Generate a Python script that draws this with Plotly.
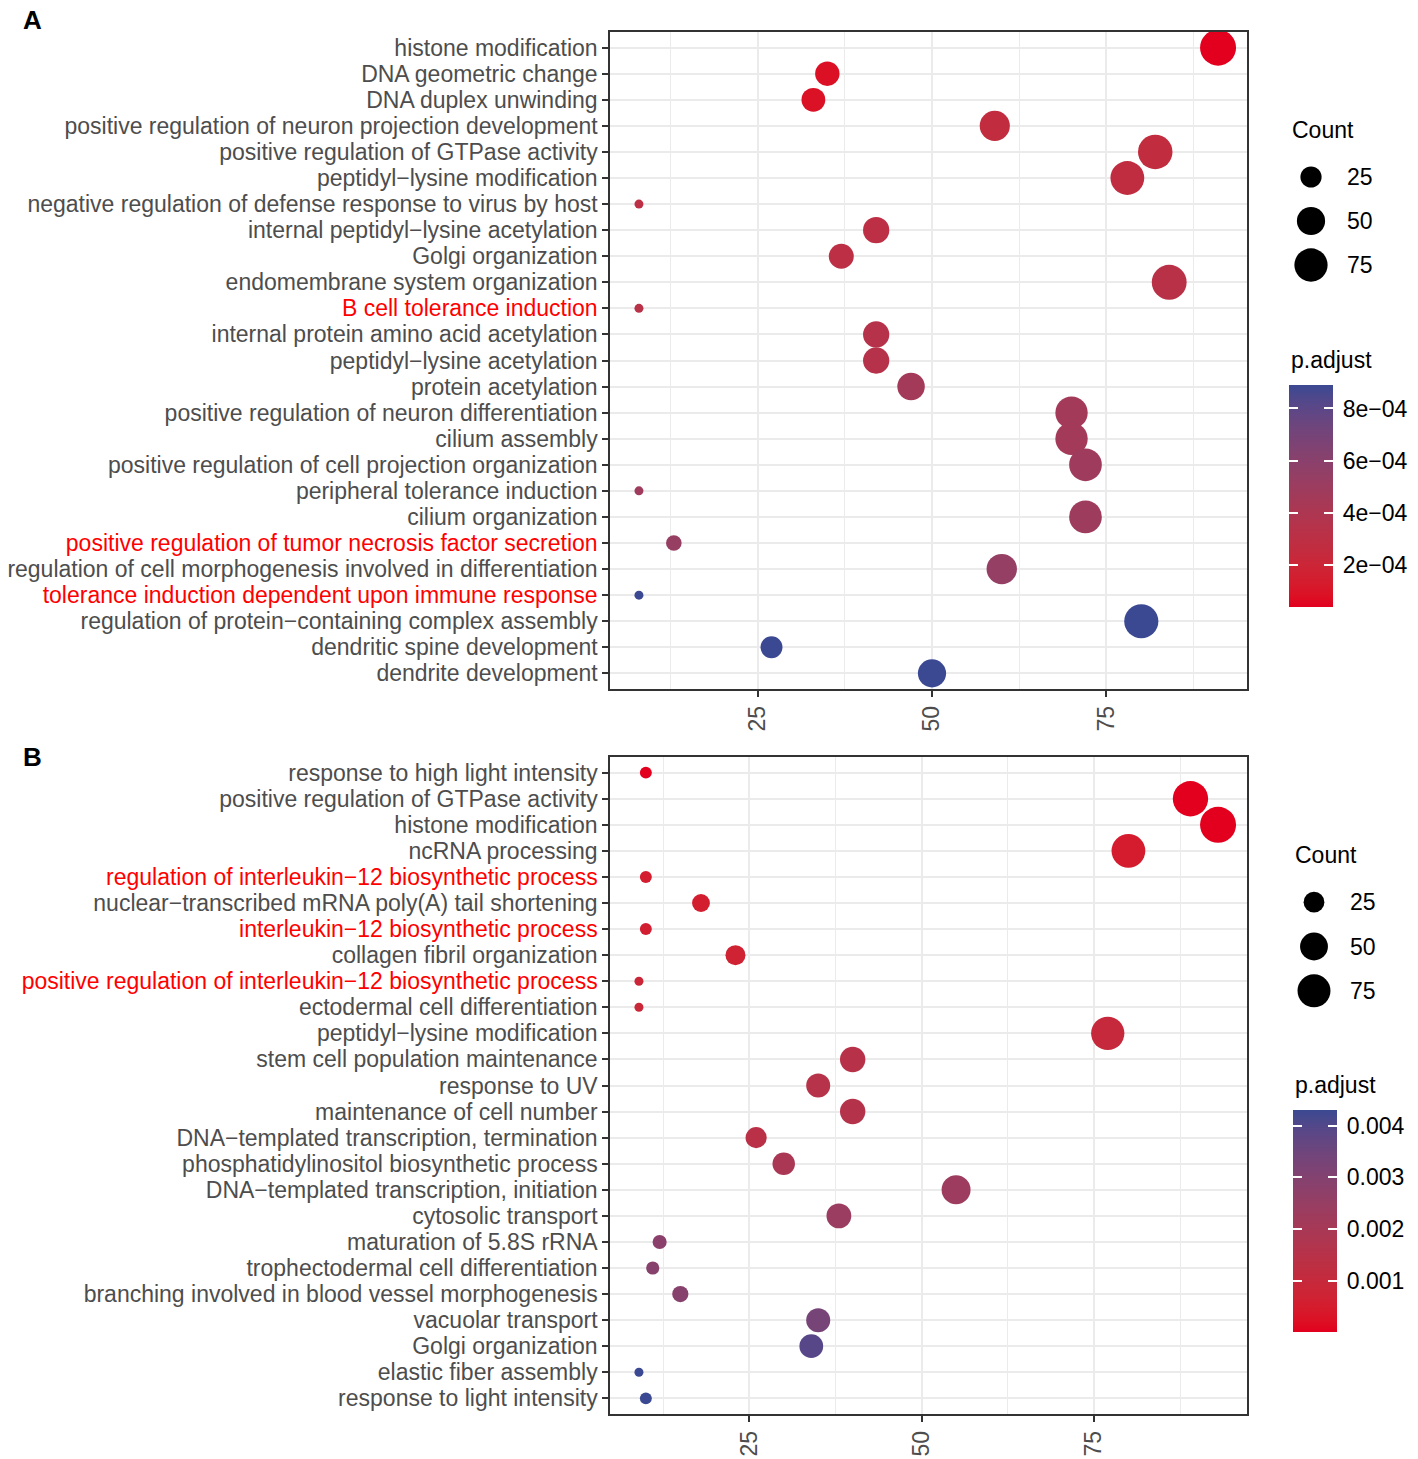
import numpy as np
import plotly.graph_objects as go

# page is 1418x1459; the browser body adds an 8px margin, so the figure is
# drawn 8px smaller and all pixel targets are offset by 8px.
PAGE_W, PAGE_H = 1418, 1459
OFF = 8
W, H = PAGE_W - OFF, PAGE_H - OFF

# ---------------- Panel A data ----------------
terms_a = [
    "histone modification",
    "DNA geometric change",
    "DNA duplex unwinding",
    "positive regulation of neuron projection development",
    "positive regulation of GTPase activity",
    "peptidyl−lysine modification",
    "negative regulation of defense response to virus by host",
    "internal peptidyl−lysine acetylation",
    "Golgi organization",
    "endomembrane system organization",
    "B cell tolerance induction",
    "internal protein amino acid acetylation",
    "peptidyl−lysine acetylation",
    "protein acetylation",
    "positive regulation of neuron differentiation",
    "cilium assembly",
    "positive regulation of cell projection organization",
    "peripheral tolerance induction",
    "cilium organization",
    "positive regulation of tumor necrosis factor secretion",
    "regulation of cell morphogenesis involved in differentiation",
    "tolerance induction dependent upon immune response",
    "regulation of protein−containing complex assembly",
    "dendritic spine development",
    "dendrite development",
]
count_a = [91, 35, 33, 59, 82, 78, 8, 42, 37, 84, 8, 42, 42, 47, 70, 70, 72, 8, 72, 13, 60, 8, 80, 27, 50]
padj_a = [3.8e-5, 8.0e-5, 8.5e-5, 2.6e-4, 2.6e-4, 2.7e-4, 3.0e-4, 3.0e-4, 3.0e-4, 3.2e-4,
          3.3e-4, 3.4e-4, 3.4e-4, 4.6e-4, 4.6e-4, 4.6e-4, 4.8e-4, 4.8e-4, 4.9e-4, 5.3e-4,
          5.4e-4, 8.9e-4, 8.9e-4, 8.9e-4, 8.9e-4]
highlight_a = [
    "B cell tolerance induction",
    "positive regulation of tumor necrosis factor secretion",
    "tolerance induction dependent upon immune response",
]
ticks_a = [2e-4, 4e-4, 6e-4, 8e-4]

# ---------------- Panel B data ----------------
terms_b = [
    "response to high light intensity",
    "positive regulation of GTPase activity",
    "histone modification",
    "ncRNA processing",
    "regulation of interleukin−12 biosynthetic process",
    "nuclear−transcribed mRNA poly(A) tail shortening",
    "interleukin−12 biosynthetic process",
    "collagen fibril organization",
    "positive regulation of interleukin−12 biosynthetic process",
    "ectodermal cell differentiation",
    "peptidyl−lysine modification",
    "stem cell population maintenance",
    "response to UV",
    "maintenance of cell number",
    "DNA−templated transcription, termination",
    "phosphatidylinositol biosynthetic process",
    "DNA−templated transcription, initiation",
    "cytosolic transport",
    "maturation of 5.8S rRNA",
    "trophectodermal cell differentiation",
    "branching involved in blood vessel morphogenesis",
    "vacuolar transport",
    "Golgi organization",
    "elastic fiber assembly",
    "response to light intensity",
]
count_b = [10, 89, 93, 80, 10, 18, 10, 23, 9, 9, 77, 40, 35, 40, 26, 30, 55, 38, 12, 11, 15, 35, 34, 9, 10]
padj_b = [1.0e-5, 1.0e-5, 1.2e-5, 5.0e-4, 5.2e-4, 5.5e-4, 6.0e-4, 7.0e-4, 8.5e-4, 9.0e-4,
          1.0e-3, 1.5e-3, 1.55e-3, 1.6e-3, 1.4e-3, 1.9e-3, 2.3e-3, 2.4e-3, 2.8e-3, 2.9e-3,
          2.9e-3, 3.3e-3, 3.9e-3, 4.3e-3, 4.3e-3]
highlight_b = [
    "regulation of interleukin−12 biosynthetic process",
    "interleukin−12 biosynthetic process",
    "positive regulation of interleukin−12 biosynthetic process",
]
ticks_b = [0.001, 0.002, 0.003, 0.004]

size_breaks = [25, 50, 75]
x_ticks = [25, 50, 75]

LOW_COLOR = "#E2001E"
HIGH_COLOR = "#3B4992"
FONT = "Liberation Sans, Arial, sans-serif"
AXIS_TXT = "#4D4D4D"
BORDER = "#333333"
GRID = "#EBEBEB"
FS = 23
CB_LEN = 222
CB_THICK = 44
CB_TICK = 9
PAD = "\u2009"   # small push of colour-bar labels away from the bar


# ---------------- helpers ----------------
def px(x):
    return (x - OFF) / W


def py(y):
    return 1 - (y - OFF) / H


_M = np.array([[0.4124564, 0.3575761, 0.1804375],
               [0.2126729, 0.7151522, 0.0721750],
               [0.0193339, 0.1191920, 0.9503041]])
_WHITE = np.array([0.95047, 1.0, 1.08883])
_D = 6 / 29


def hex_to_lab(h):
    rgb = np.array([int(h[i:i + 2], 16) for i in (1, 3, 5)]) / 255.0
    lin = np.where(rgb <= 0.04045, rgb / 12.92, ((rgb + 0.055) / 1.055) ** 2.4)
    t = (_M @ lin) / _WHITE
    f = np.where(t > _D ** 3, np.cbrt(t), t / (3 * _D ** 2) + 4 / 29)
    return np.array([116 * f[1] - 16, 500 * (f[0] - f[1]), 200 * (f[1] - f[2])])


def lab_to_hex(lab):
    L, a, b = lab
    fy = (L + 16) / 116
    fx = fy + a / 500
    fz = fy - b / 200
    f = np.array([fx, fy, fz])
    t = np.where(f > _D, f ** 3, 3 * _D ** 2 * (f - 4 / 29)) * _WHITE
    lin = np.linalg.solve(_M, t)
    lin = np.clip(lin, 0, 1)
    rgb = np.where(lin <= 0.0031308, 12.92 * lin, 1.055 * lin ** (1 / 2.4) - 0.055)
    rgb = np.clip(np.round(rgb * 255), 0, 255).astype(int)
    return "#%02X%02X%02X" % tuple(rgb)


lab_lo, lab_hi = hex_to_lab(LOW_COLOR), hex_to_lab(HIGH_COLOR)
colorscale = [[float(s), lab_to_hex(lab_lo + (lab_hi - lab_lo) * s)] for s in np.linspace(0, 1, 21)]
clear_scale = [[0, "rgba(0,0,0,0)"], [1, "rgba(0,0,0,0)"]]


def size_fn(counts, cmin, cmax):
    c = np.asarray(counts, dtype=float)
    return 9 + 27 * np.sqrt((c - cmin) / (cmax - cmin))


def styled(terms, hl):
    return ['<span style="color:#FF0000">%s</span>' % t if t in hl else t for t in terms]


def sci_label(v):
    return ("%.0e" % v).replace("-", "−")


fig = go.Figure()

panels = [
    dict(terms=terms_a, count=count_a, padj=padj_a, hl=highlight_a, ticks=ticks_a,
         labels=[sci_label(v) for v in ticks_a],
         top=32, bottom=689, xs="x", ys="y",
         leg_x=(1290, 1332), leg_y=(155, 287), cb_x=1289, cb_top=385,
         count_title=(1290, 130), p_title=(1289, 360), letter=("A", 20)),
    dict(terms=terms_b, count=count_b, padj=padj_b, hl=highlight_b, ticks=ticks_b,
         labels=["%.3f" % v for v in ticks_b],
         top=757, bottom=1414, xs="x2", ys="y2",
         leg_x=(1293, 1335), leg_y=(880, 1013), cb_x=1293, cb_top=1110,
         count_title=(1293, 855), p_title=(1293, 1085), letter=("B", 757)),
]

annotations = []
layout_upd = {}
for i, p in enumerate(panels):
    ca_main = "coloraxis" if i == 0 else "coloraxis2"
    ca_ticks = "coloraxis%d" % (3 + i)
    cmin, cmax = min(p["count"]), max(p["count"])
    sizes = size_fn(p["count"], cmin, cmax)
    fig.add_trace(go.Scatter(
        x=p["count"], y=p["terms"], mode="markers",
        xaxis=p["xs"], yaxis=p["ys"],
        marker=dict(size=sizes, sizemode="diameter", color=p["padj"],
                    coloraxis=ca_main, line=dict(width=0), opacity=1),
        showlegend=False, hoverinfo="x+y",
    ))
    # invisible copy feeding a transparent colour bar that only draws the left-edge ticks
    fig.add_trace(go.Scatter(
        x=p["count"], y=p["terms"], mode="markers",
        xaxis=p["xs"], yaxis=p["ys"],
        marker=dict(size=1, color=p["padj"], coloraxis=ca_ticks, opacity=0),
        showlegend=False, hoverinfo="skip",
    ))
    # size legend (drawn on its own small axes)
    lx = "x%d" % (3 + i)
    ly = "y%d" % (3 + i)
    fig.add_trace(go.Scatter(
        x=[0] * len(size_breaks), y=[str(b) for b in size_breaks], mode="markers",
        xaxis=lx, yaxis=ly,
        marker=dict(size=size_fn(size_breaks, cmin, cmax), sizemode="diameter",
                    color="black", line=dict(width=0), opacity=1),
        showlegend=False, hoverinfo="skip",
    ))
    span = cmax - cmin
    n = len(p["terms"])
    pmin, pmax = min(p["padj"]), max(p["padj"])
    xkey = "xaxis" if i == 0 else "xaxis2"
    ykey = "yaxis" if i == 0 else "yaxis2"
    layout_upd.update({
        xkey: dict(
            domain=[px(610), px(1247)], anchor=p["ys"],
            range=[cmin - 0.05 * span, cmax + 0.05 * span],
            tickvals=x_ticks, tickangle=-90,
            ticks="outside", ticklen=6, tickwidth=1.5, tickcolor=BORDER,
            showline=True, mirror=True, linecolor=BORDER, linewidth=1.5,
            showgrid=True, gridcolor=GRID, gridwidth=2, zeroline=False,
            minor=dict(dtick=12.5, tick0=0, showgrid=True, gridcolor=GRID, gridwidth=1),
            tickfont=dict(family=FONT, size=FS, color=AXIS_TXT), automargin=False,
        ),
        ykey: dict(
            domain=[py(p["bottom"]), py(p["top"])], anchor=p["xs"],
            type="category", categoryorder="array", categoryarray=p["terms"],
            range=[n - 1 + 0.6, -0.6],
            tickvals=p["terms"], ticktext=styled(p["terms"], p["hl"]),
            ticks="outside", ticklen=6, tickwidth=1.5, tickcolor=BORDER,
            showline=True, mirror=True, linecolor=BORDER, linewidth=1.5,
            showgrid=True, gridcolor=GRID, gridwidth=2, zeroline=False,
            tickfont=dict(family=FONT, size=FS, color=AXIS_TXT), automargin=False,
        ),
        "xaxis%d" % (3 + i): dict(
            domain=[px(p["leg_x"][0]), px(p["leg_x"][1])], anchor=ly,
            range=[-1, 1], visible=False, fixedrange=True,
        ),
        "yaxis%d" % (3 + i): dict(
            domain=[py(p["leg_y"][1]), py(p["leg_y"][0])], anchor=lx,
            type="category", categoryorder="array", categoryarray=[str(b) for b in size_breaks],
            range=[len(size_breaks) - 0.5, -0.5], side="right",
            showgrid=False, showline=False, zeroline=False, ticks="",
            ticklabelstandoff=14, automargin=False,
            tickfont=dict(family=FONT, size=FS, color="black"), fixedrange=True,
        ),
        ca_main: dict(
            colorscale=colorscale, cmin=pmin, cmax=pmax,
            colorbar=dict(
                x=px(p["cb_x"]), xanchor="left", xpad=0, ypad=0,
                y=py(p["cb_top"]), yanchor="top",
                len=CB_LEN, lenmode="pixels", thickness=CB_THICK, thicknessmode="pixels",
                outlinewidth=0, tickvals=p["ticks"], ticktext=[PAD + s for s in p["labels"]],
                ticks="inside", ticklen=CB_TICK, tickwidth=1.5, tickcolor="white",
                tickfont=dict(family=FONT, size=FS, color="black"),
            ),
        ),
        ca_ticks: dict(
            colorscale=clear_scale, cmin=pmin, cmax=pmax,
            colorbar=dict(
                x=px(p["cb_x"]), xanchor="left", xpad=0, ypad=0,
                y=py(p["cb_top"]), yanchor="top",
                len=CB_LEN, lenmode="pixels", thickness=CB_TICK, thicknessmode="pixels",
                outlinewidth=0, tickvals=p["ticks"], showticklabels=False,
                ticks="inside", ticklen=CB_TICK, tickwidth=1.5, tickcolor="white",
            ),
        ),
    })
    annotations += [
        dict(text="Count", x=px(p["count_title"][0]), y=py(p["count_title"][1]),
             xref="paper", yref="paper", xanchor="left", yanchor="middle", showarrow=False,
             font=dict(family=FONT, size=FS, color="black")),
        dict(text="p.adjust", x=px(p["p_title"][0]), y=py(p["p_title"][1]),
             xref="paper", yref="paper", xanchor="left", yanchor="middle", showarrow=False,
             font=dict(family=FONT, size=FS, color="black")),
        dict(text="<b>%s</b>" % p["letter"][0], x=px(32), y=py(p["letter"][1]),
             xref="paper", yref="paper", xanchor="center", yanchor="middle", showarrow=False,
             font=dict(family=FONT, size=26, color="black")),
    ]

fig.update_layout(
    width=W, height=H, margin=dict(l=0, r=0, t=0, b=0, autoexpand=False),
    paper_bgcolor="white", plot_bgcolor="white",
    showlegend=False, annotations=annotations,
    font=dict(family=FONT), **layout_upd,
)

fig.write_html("out.html")
